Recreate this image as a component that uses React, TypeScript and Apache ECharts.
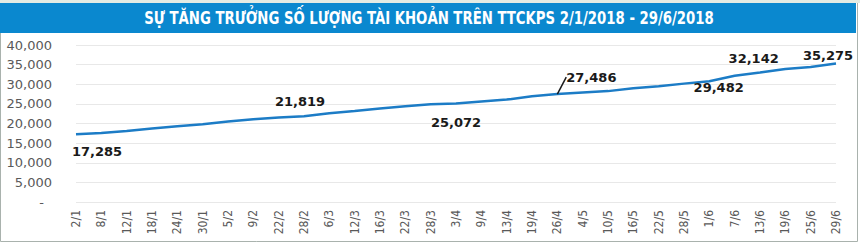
import React, { useEffect, useRef } from "react";
import * as echarts from "echarts";

const TITLE = "SỰ TĂNG TRƯỞNG SỐ LƯỢNG TÀI KHOẢN TRÊN TTCKPS 2/1/2018 - 29/6/2018";

const categories = [
  "2/1", "8/1", "12/1", "18/1", "24/1", "30/1", "5/2", "9/2", "22/2", "28/2",
  "6/3", "12/3", "16/3", "22/3", "28/3", "3/4", "9/4", "13/4", "19/4", "26/4",
  "4/5", "10/5", "16/5", "22/5", "28/5", "1/6", "7/6", "13/6", "19/6", "25/6", "29/6",
];

const accounts = [
  17285, 17580, 18090, 18700, 19290, 19800, 20480, 21070, 21500, 21819,
  22600, 23180, 23800, 24380, 24890, 25072, 25600, 26090, 26930, 27486,
  27900, 28250, 29000, 29482, 30160, 30750, 32142, 33000, 33890, 34400, 35275,
];

const labelledIndices = [0, 9, 15, 19, 23, 26, 30];

const yTicks = { min: 0, max: 40000, interval: 5000 };

// label offsets (styling)
const labelOffsets: Record<number, [number, number]> = {
  0: [21, 17],
  9: [-4, -15],
  15: [0, 19],
  19: [34, -17],
  23: [60, 1],
  26: [19, -17],
  30: [-8, -8],
};

export default function App() {
  const ref = useRef<HTMLDivElement>(null);
  useEffect(() => {
    if (!ref.current) return;
    const chart = echarts.init(ref.current, undefined, { renderer: "svg" });
    const data = accounts.map((v, i) =>
      labelledIndices.includes(i)
        ? {
            value: v,
            label: { show: true },
            labelLine: { show: i === 19, lineStyle: { color: "#1a1a1a", width: 1.5 } },
          }
        : v
    );
    chart.setOption({
      animation: false,
      backgroundColor: "#ffffff",
      graphic: [
        {
          type: "rect",
          shape: { x: 0.5, y: 0.5, width: 857, height: 241 },
          style: { fill: "none", stroke: "#a9b2ad", lineWidth: 1 },
          z: 0,
        },
        {
          type: "rect",
          shape: { x: 0, y: 0, width: 860, height: 3 },
          style: { fill: "#e3ebe4" },
          z: 1,
        },
        {
          type: "rect",
          shape: { x: 0, y: 3, width: 856, height: 30 },
          style: { fill: "#0a88cf" },
          z: 1,
        },
        {
          type: "text",
          x: 429,
          y: 18,
          scaleX: 0.82,
          style: {
            text: TITLE,
            fill: "#ffffff",
            font: "bold 18px 'Liberation Sans Narrow', 'DejaVu Sans Condensed', sans-serif",
            textAlign: "center",
            textVerticalAlign: "middle",
          },
          z: 2,
        },
      ],
      grid: { left: 76, right: 24, top: 45, bottom: 41 },
      xAxis: {
        type: "category",
        data: categories,
        boundaryGap: false,
        axisLine: { show: false },
        axisTick: { show: false },
        axisLabel: {
          rotate: 90,
          interval: 0,
          margin: 8,
          color: "#595959",
          fontSize: 12,
          fontFamily: "'Liberation Sans Narrow', 'DejaVu Sans Condensed', sans-serif",
        },
      },
      yAxis: {
        type: "value",
        min: yTicks.min,
        max: yTicks.max,
        interval: yTicks.interval,
        axisLine: { show: false },
        axisTick: { show: false },
        splitLine: { lineStyle: { color: "#e8e8e8", width: 1 } },
        axisLabel: {
          margin: 24,
          color: "#595959",
          fontSize: 13,
          fontFamily: "'DejaVu Sans', Verdana, sans-serif",
          formatter: (v: number) => (v === 0 ? "{dash|-}" : v.toLocaleString("en-US")),
          rich: { dash: { padding: [0, 8, 0, 0], color: "#595959", fontSize: 13 } },
        },
      },
      series: [
        {
          type: "line",
          data,
          symbol: "circle",
          symbolSize: 0.1,
          showSymbol: true,
          itemStyle: { color: "rgba(0,0,0,0)", borderWidth: 0 },
          smooth: false,
          lineStyle: { color: "#1c7cc6", width: 2.5 },
          label: {
            show: false,
            position: "inside",
            color: "#1a1a1a",
            fontSize: 13,
            fontWeight: "bold",
            fontFamily: "'DejaVu Sans', Verdana, sans-serif",
            formatter: (p: any) => Number(p.value).toLocaleString("en-US"),
          },
          labelLayout: (p: any) => {
            const o = labelOffsets[p.dataIndex];
            return o ? { dx: o[0], dy: o[1] } : {};
          },
        },
      ],
    });
    return () => chart.dispose();
  }, []);
  return <div ref={ref} style={{ position: "fixed", left: 0, top: 0, width: 860, height: 243 }} />;
}
